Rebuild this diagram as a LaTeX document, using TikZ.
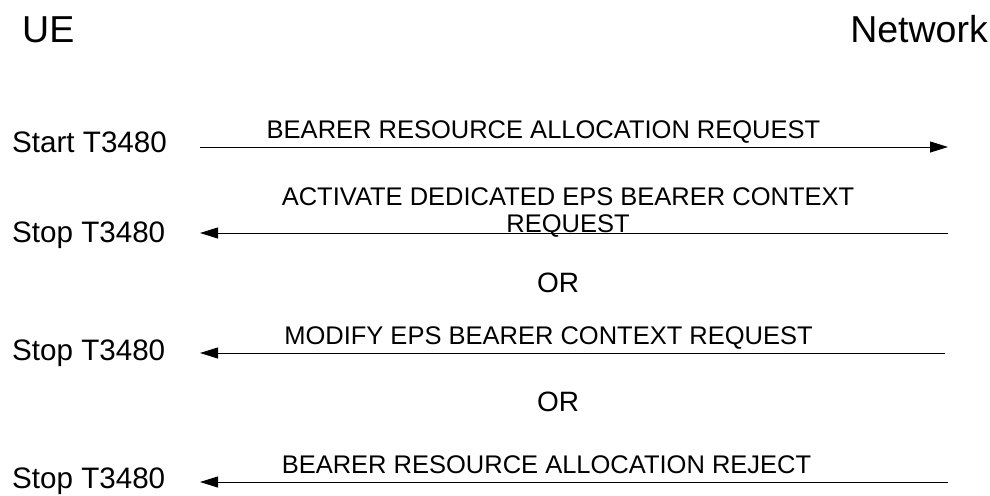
\documentclass[tikz,border=0pt]{standalone}
\usepackage{fontspec}
\setmainfont{Liberation Sans}
\usetikzlibrary{arrows.meta}
\begin{document}
\begin{tikzpicture}[x=1pt,y=-1pt,
  entity/.style={inner sep=0pt,font=\fontsize{37.5}{40}\selectfont},
  timer/.style={inner sep=0pt,anchor=base west,font=\fontsize{29.6}{32}\selectfont},
  msglabel/.style={inner sep=0pt,anchor=base,align=center,font=\fontsize{25.5}{27}\selectfont},
  ortext/.style={inner sep=0pt,anchor=base,font=\fontsize{28}{30}\selectfont},
  msg/.style={line width=1pt,-{Triangle[length=18pt,width=11pt]}}]
\useasboundingbox (0,0) rectangle (990,495);
\node[entity,anchor=base west] (ue) at (22,43) {UE};
\node[entity,anchor=base east] (nw) at (988,43) {Network};
% row 1
\node[timer] (t1) at (12,152) {Start T3480};
\coordinate (a1s) at (200,147);
\coordinate (a1e) at (948,147);
\draw[msg] (a1s) -- (a1e);
\node[msglabel] (m1) at (543.5,138) {BEARER RESOURCE ALLOCATION REQUEST};
% row 2
\node[timer] (t2) at (12,242) {Stop T3480};
\coordinate (a2s) at (948,233);
\coordinate (a2e) at (200,233);
\draw[msg] (a2s) -- (a2e);
\node[msglabel] (m2) at (568,232) {ACTIVATE DEDICATED EPS BEARER CONTEXT\\REQUEST};
\node[ortext] (or1) at (558,292) {OR};
% row 3
\node[timer] (t3) at (12,360) {Stop T3480};
\coordinate (a3s) at (945,353);
\coordinate (a3e) at (200,353);
\draw[msg] (a3s) -- (a3e);
\node[msglabel] (m3) at (548.5,344) {MODIFY EPS BEARER CONTEXT REQUEST};
\node[ortext] (or2) at (558,411) {OR};
% row 4
\node[timer] (t4) at (12,488) {Stop T3480};
\coordinate (a4s) at (948,482);
\coordinate (a4e) at (200,482);
\draw[msg] (a4s) -- (a4e);
\node[msglabel] (m4) at (546.5,473) {BEARER RESOURCE ALLOCATION REJECT};
\end{tikzpicture}
\end{document}
